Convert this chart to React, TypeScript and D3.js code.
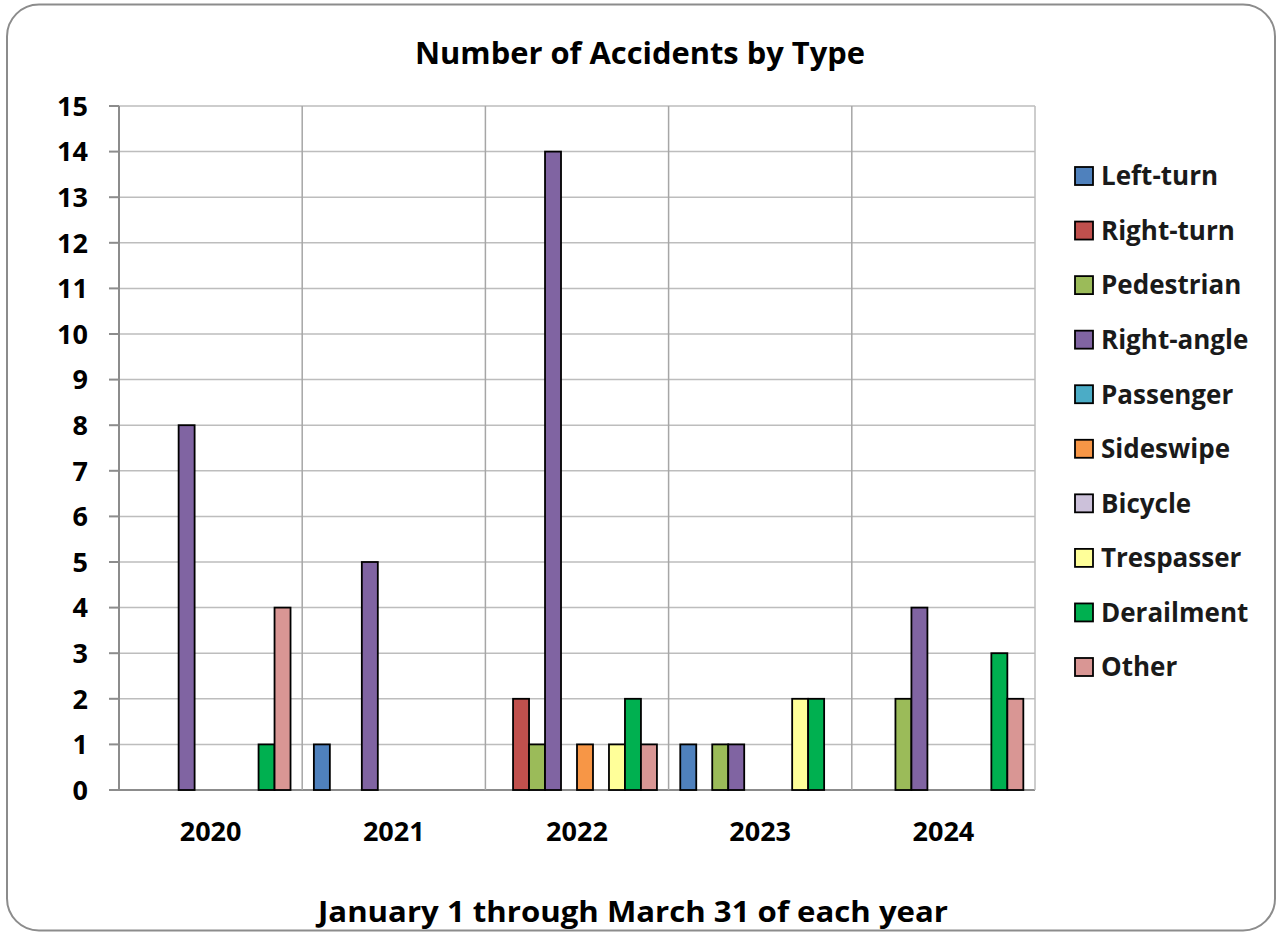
import * as d3 from "d3";

const years = ["2020", "2021", "2022", "2023", "2024"];
const types = [
  "Left-turn",
  "Right-turn",
  "Pedestrian",
  "Right-angle",
  "Passenger",
  "Sideswipe",
  "Bicycle",
  "Trespasser",
  "Derailment",
  "Other",
];
const colors = [
  "#4f81bd",
  "#c0504d",
  "#9bbb59",
  "#8064a2",
  "#4bacc6",
  "#f79646",
  "#ccc1da",
  "#ffff99",
  "#00b050",
  "#d99694",
];
// counts per year, in the order of `types`
const leftTurn = [0, 1, 0, 1, 0];
const rightTurn = [0, 0, 2, 0, 0];
const pedestrian = [0, 0, 1, 1, 2];
const rightAngle = [8, 5, 14, 1, 4];
const passenger = [0, 0, 0, 0, 0];
const sideswipe = [0, 0, 1, 0, 0];
const bicycle = [0, 0, 0, 0, 0];
const trespasser = [0, 0, 1, 2, 0];
const derailment = [1, 0, 2, 2, 3];
const other = [4, 0, 1, 0, 2];
const series = [
  leftTurn,
  rightTurn,
  pedestrian,
  rightAngle,
  passenger,
  sideswipe,
  bicycle,
  trespasser,
  derailment,
  other,
];
const yTicks = d3.range(0, 16);

const font = "'Open Sans', 'Noto Sans', sans-serif";

export default function App() {
  const W = 1283;
  const H = 932;
  const margin = { left: 119, right: 1035, top: 106, bottom: 790 };

  const x0 = d3
    .scaleBand()
    .domain(years)
    .range([margin.left, margin.right])
    .paddingInner(0)
    .paddingOuter(0);
  const x1 = d3
    .scaleBand()
    .domain(types)
    .range([0, x0.bandwidth()])
    .paddingInner(0)
    .paddingOuter(0.73);
  const y = d3.scaleLinear().domain([0, 15]).range([margin.bottom, margin.top]);

  const legendY = d3.scalePoint().domain(types).range([176, 667]);

  return (
    <svg
      width={W}
      height={H}
      style={{ position: "absolute", left: 0, top: 0, fontFamily: font }}
    >
      <rect
        x={7}
        y={4.5}
        width={1268}
        height={926}
        rx={32}
        fill="#fff"
        stroke="#8c8c8c"
        strokeWidth={2}
      />
      <text
        x={640}
        y={64}
        textAnchor="middle"
        fontSize={31}
        fontWeight="bold"
        fill="#000"
        textLength={450}
        lengthAdjust="spacingAndGlyphs"
      >
        Number of Accidents by Type
      </text>

      {/* horizontal gridlines */}
      {yTicks.map((t) => (
        <line
          key={"g" + t}
          x1={margin.left}
          x2={margin.right}
          y1={y(t)}
          y2={y(t)}
          stroke={t === 0 ? "#8c8c8c" : "#bdbdbd"}
          strokeWidth={t === 0 ? 2 : 1.5}
        />
      ))}
      {/* vertical gridlines at category boundaries */}
      {years.slice(1).map((yr) => (
        <line
          key={"v" + yr}
          x1={x0(yr)}
          x2={x0(yr)}
          y1={margin.top}
          y2={margin.bottom}
          stroke="#a6a6a6"
          strokeWidth={1.5}
        />
      ))}
      <line
        x1={margin.right}
        x2={margin.right}
        y1={margin.top}
        y2={margin.bottom}
        stroke="#bdbdbd"
        strokeWidth={1.5}
      />
      {/* y axis */}
      <line
        x1={margin.left}
        x2={margin.left}
        y1={margin.top}
        y2={margin.bottom}
        stroke="#8c8c8c"
        strokeWidth={2}
      />
      {yTicks.map((t) => (
        <g key={"t" + t}>
          <line
            x1={margin.left - 10}
            x2={margin.left}
            y1={y(t)}
            y2={y(t)}
            stroke="#8c8c8c"
            strokeWidth={2}
          />
          <text
            x={88}
            y={y(t)}
            dy="0.36em"
            textAnchor="end"
            fontSize={27}
            fontWeight="bold"
          >
            {t}
          </text>
        </g>
      ))}

      {/* bars */}
      {years.map((yr, i) => (
        <g key={yr} transform={`translate(${x0(yr)},0)`}>
          {types.map((tp, j) =>
            series[j][i] > 0 ? (
              <rect
                key={tp}
                x={x1(tp)}
                y={y(series[j][i])}
                width={x1.bandwidth()}
                height={y(0) - y(series[j][i])}
                fill={colors[j]}
                stroke="#000"
                strokeWidth={1.8}
              />
            ) : null
          )}
          <text
            x={x0.bandwidth() / 2}
            y={841}
            textAnchor="middle"
            fontSize={27}
            fontWeight="bold"
          >
            {yr}
          </text>
        </g>
      ))}

      {/* legend */}
      {types.map((tp, j) => (
        <g key={"l" + tp} transform={`translate(1075,${legendY(tp)})`}>
          <rect
            x={0}
            y={-9}
            width={18}
            height={18}
            fill={colors[j]}
            stroke="#000"
            strokeWidth={1.8}
          />
          <text
            x={26}
            y={0}
            dy="0.36em"
            fontSize={26}
            fontWeight="bold"
            fill="#1a1a1a"
          >
            {tp}
          </text>
        </g>
      ))}

      <text
        x={633}
        y={922}
        textAnchor="middle"
        fontSize={29}
        fontWeight="bold"
        textLength={630}
        lengthAdjust="spacingAndGlyphs"
      >
        January 1 through March 31 of each year
      </text>
    </svg>
  );
}
